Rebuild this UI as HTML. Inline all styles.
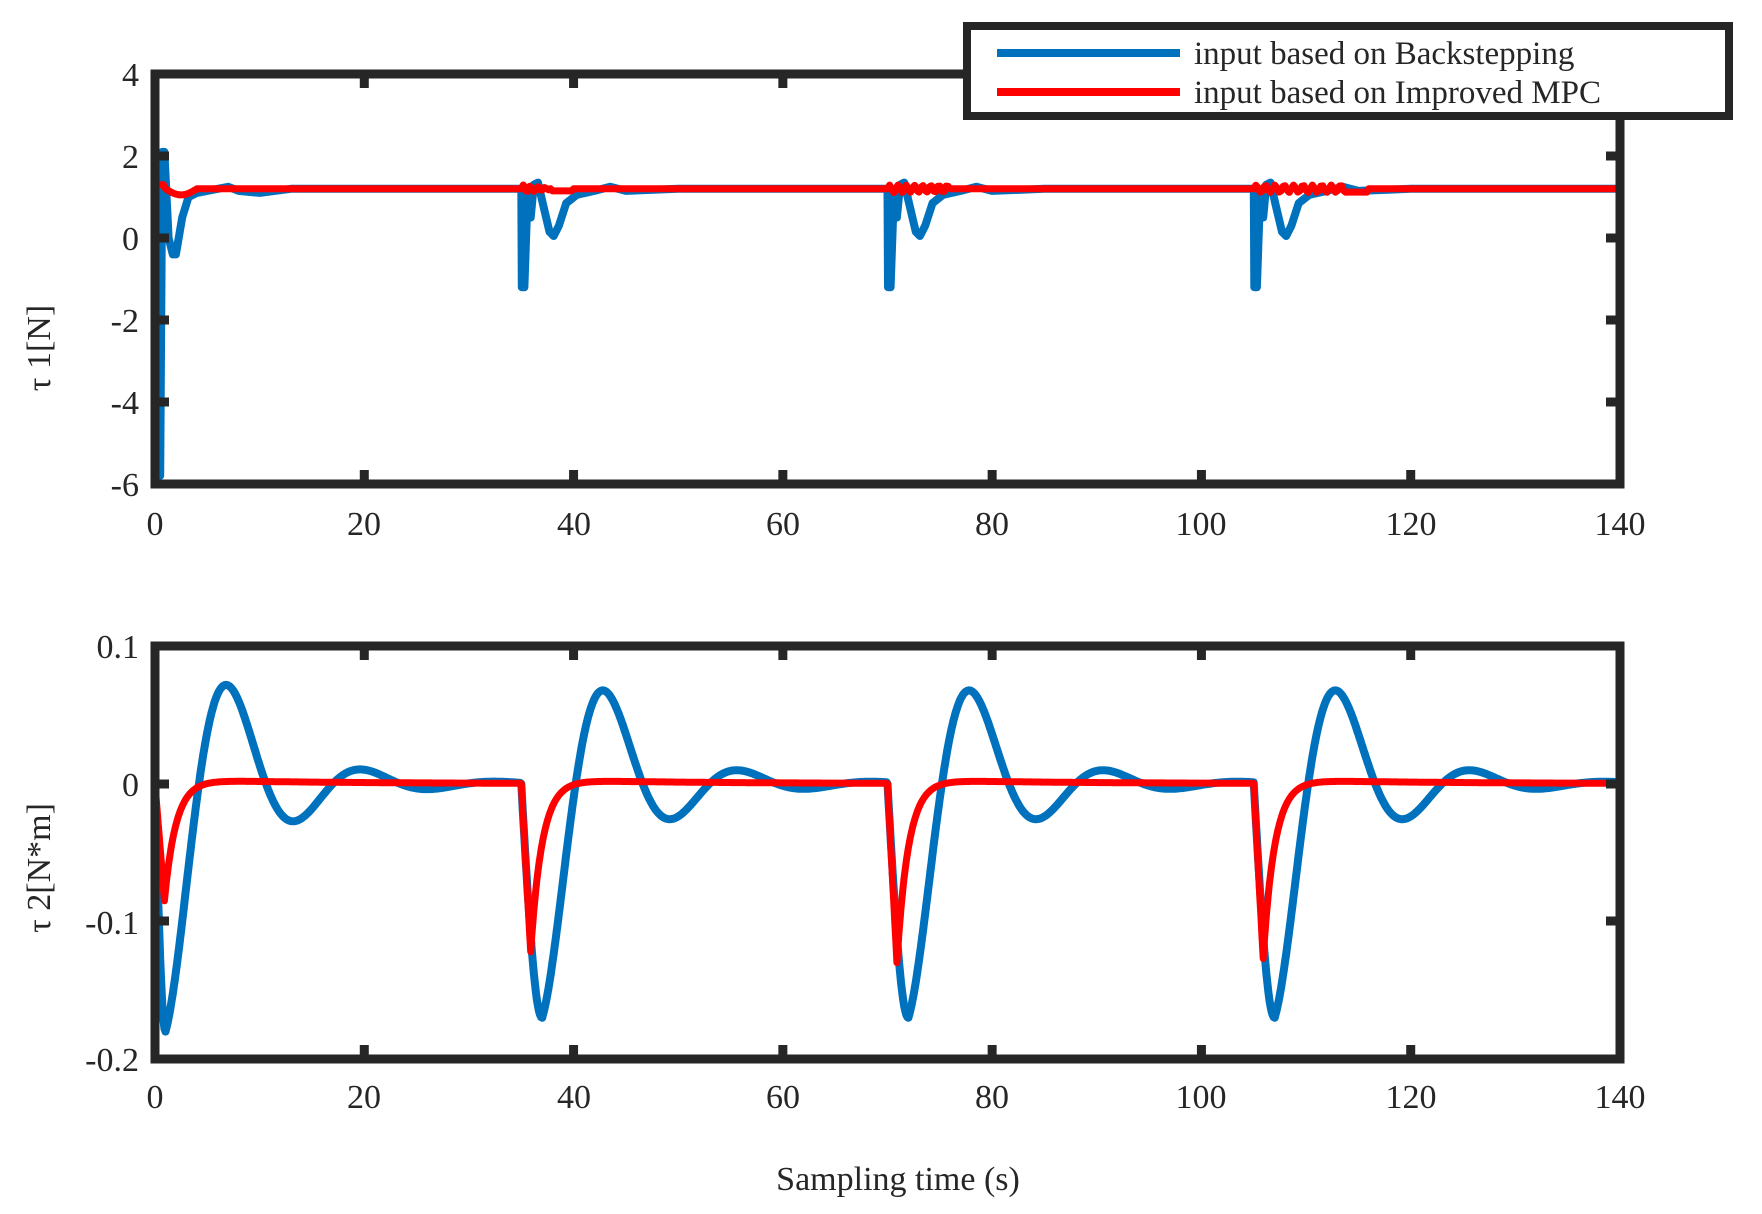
<!DOCTYPE html>
<html><head><meta charset="utf-8">
<style>
html,body{margin:0;padding:0;background:#fff;}
svg{display:block;}
text{font-family:"Liberation Serif",serif;fill:#262626;}
</style></head>
<body>
<svg id="s" width="1762" height="1214" viewBox="0 0 1762 1214" xmlns="http://www.w3.org/2000/svg">
<rect width="1762" height="1214" fill="#fff"/>
<g id="plots"></g>
<g font-size="34">
<text x="155" y="535" text-anchor="middle">0</text>
<text x="364" y="535" text-anchor="middle">20</text>
<text x="574" y="535" text-anchor="middle">40</text>
<text x="783" y="535" text-anchor="middle">60</text>
<text x="992" y="535" text-anchor="middle">80</text>
<text x="1201" y="535" text-anchor="middle">100</text>
<text x="1411" y="535" text-anchor="middle">120</text>
<text x="1620" y="535" text-anchor="middle">140</text>
<text x="155" y="1108" text-anchor="middle">0</text>
<text x="364" y="1108" text-anchor="middle">20</text>
<text x="574" y="1108" text-anchor="middle">40</text>
<text x="783" y="1108" text-anchor="middle">60</text>
<text x="992" y="1108" text-anchor="middle">80</text>
<text x="1201" y="1108" text-anchor="middle">100</text>
<text x="1411" y="1108" text-anchor="middle">120</text>
<text x="1620" y="1108" text-anchor="middle">140</text>
<text x="139" y="86" text-anchor="end">4</text>
<text x="139" y="168" text-anchor="end">2</text>
<text x="139" y="250" text-anchor="end">0</text>
<text x="139" y="332" text-anchor="end">-2</text>
<text x="139" y="414" text-anchor="end">-4</text>
<text x="139" y="496" text-anchor="end">-6</text>
<text x="139" y="658" text-anchor="end">0.1</text>
<text x="139" y="796" text-anchor="end">0</text>
<text x="139" y="934" text-anchor="end">-0.1</text>
<text x="139" y="1071" text-anchor="end">-0.2</text>
<text transform="translate(50,348) rotate(-90)" text-anchor="middle">τ 1[N]</text>
<text transform="translate(50,868) rotate(-90)" text-anchor="middle">τ 2[N*m]</text>
<text x="898" y="1190" text-anchor="middle">Sampling time (s)</text>
</g>
<g>
<rect x="967" y="26" width="762" height="90" fill="#fff" stroke="#262626" stroke-width="8"/>
<line x1="997" y1="53" x2="1180" y2="53" stroke="#0072BD" stroke-width="8"/>
<line x1="997" y1="92" x2="1180" y2="92" stroke="#FF0000" stroke-width="8"/>
<text x="1194" y="64" font-size="33">input based on Backstepping</text>
<text x="1194" y="103" font-size="33">input based on Improved MPC</text>
</g>
</svg>
<script>
(function(){
var NS="http://www.w3.org/2000/svg";
var g=document.getElementById('plots');
var L=155,R=1620;
function X(t){return L+(R-L)*t/140;}
function add(tag,attrs){var e=document.createElementNS(NS,tag);for(var k in attrs)e.setAttribute(k,attrs[k]);g.appendChild(e);return e;}
function Y1(v){return 74+(4-v)*41;}
function Y2(v){return 646+(0.1-v)*1377;}
function path(pts,col,w){var d='';pts.forEach(function(p,i){d+=(i?'L':'M')+p[0].toFixed(1)+' '+p[1].toFixed(1);});add('path',{d:d,fill:'none',stroke:col,'stroke-width':w,'stroke-linejoin':'round','stroke-linecap':'round'});}
var first=[[0,-4.8],[0.2,-5.8],[0.5,-5.8],[0.7,2.1],[0.9,2.1],[1.3,0],[1.7,-0.4],[2.0,-0.4],[2.6,0.5],[3.2,1.0],[4,1.1],[6,1.2],[7,1.25],[8,1.15],[10,1.1],[13,1.2],[35,1.2]];
var cyc=[[0,1.2],[0.05,-1.2],[0.3,-1.2],[0.6,1.0],[0.9,0.5],[1.2,1.3],[1.6,1.35],[2.1,0.8],[2.7,0.15],[3.1,0.05],[3.6,0.3],[4.3,0.85],[5.3,1.05],[7,1.15],[8.5,1.25],[10,1.15],[15,1.2],[35,1.2]];
var pb=[];first.forEach(function(p){pb.push([X(p[0]),Y1(p[1])]);});
[35,70,105].forEach(function(t0){cyc.forEach(function(p){if(t0+p[0]<=140)pb.push([X(t0+p[0]),Y1(p[1])]);});});
path(pb,'#0072BD',8);
var pr=[];
for(var t=0;t<=140;t+=0.2){
 var v=1.2;
 if(t<1){v=1.3;} else if(t<4){v=1.2-0.15*Math.sin(Math.PI*(t-1)/3);}
 if(t>=35&&t<38){v=1.2+0.1*Math.sin((t-35)*9)*(1-(t-35)/3.5);}
 if(t>=38&&t<40){v=1.15;}
 if(t>=70&&t<76){v=1.2+0.09*Math.sin((t-70)*8);}
 if(t>=105&&t<114){v=1.2+0.09*Math.sin((t-105)*7);}
 if(t>=114&&t<116){v=1.12;}
 pr.push([X(t),Y1(v)]);
}
path(pr,'#FF0000',7);
var w=2*Math.PI/12.8,a=0.151;
function blue(tp,first){var A=first?0.18:0.17,tm=first?1:2;
 if(tp<tm)return -A*Math.sin(Math.PI/2*tp/tm);
 return -A*Math.exp(-a*(tp-tm))*Math.cos(w*(tp-tm));}
var bb=[];
for(var t=0;t<=140;t+=0.1){var t0=t<35?0:t<70?35:t<105?70:105;bb.push([X(t),Y2(blue(t-t0,t0===0))]);}
path(bb,'#0072BD',8);
function red(tp,B){var tp0=0.9;
 if(tp<tp0)return -B*tp/tp0;
 return -B*Math.exp(-(tp-tp0)/1.1)+0.003*(1-Math.exp(-(tp-tp0)/1.5))*Math.exp(-(tp-tp0)/15);}
var rr=[];
for(var t=0;t<=140;t+=0.1){var t0=t<35?0:t<70?35:t<105?70:105;var B=t0===0?0.085:t0===35?0.122:t0===70?0.13:0.127;rr.push([X(t),Y2(red(t-t0,B))]);}
path(rr,'#FF0000',7);
function axes(top,bot,yt){
 add('rect',{x:L,y:top,width:R-L,height:bot-top,fill:'none',stroke:'#262626','stroke-width':9});
 for(var i=1;i<7;i++){var x=X(i*20);add('line',{x1:x,y1:top,x2:x,y2:top+14,stroke:'#262626','stroke-width':9});add('line',{x1:x,y1:bot,x2:x,y2:bot-14,stroke:'#262626','stroke-width':9});}
 yt.forEach(function(y){add('line',{x1:L,y1:y,x2:L+14,y2:y,stroke:'#262626','stroke-width':9});add('line',{x1:R,y1:y,x2:R-14,y2:y,stroke:'#262626','stroke-width':9});});
}
axes(74,484,[156,238,320,402]);
axes(646,1059,[784,921]);
})();
</script>
</body></html>
